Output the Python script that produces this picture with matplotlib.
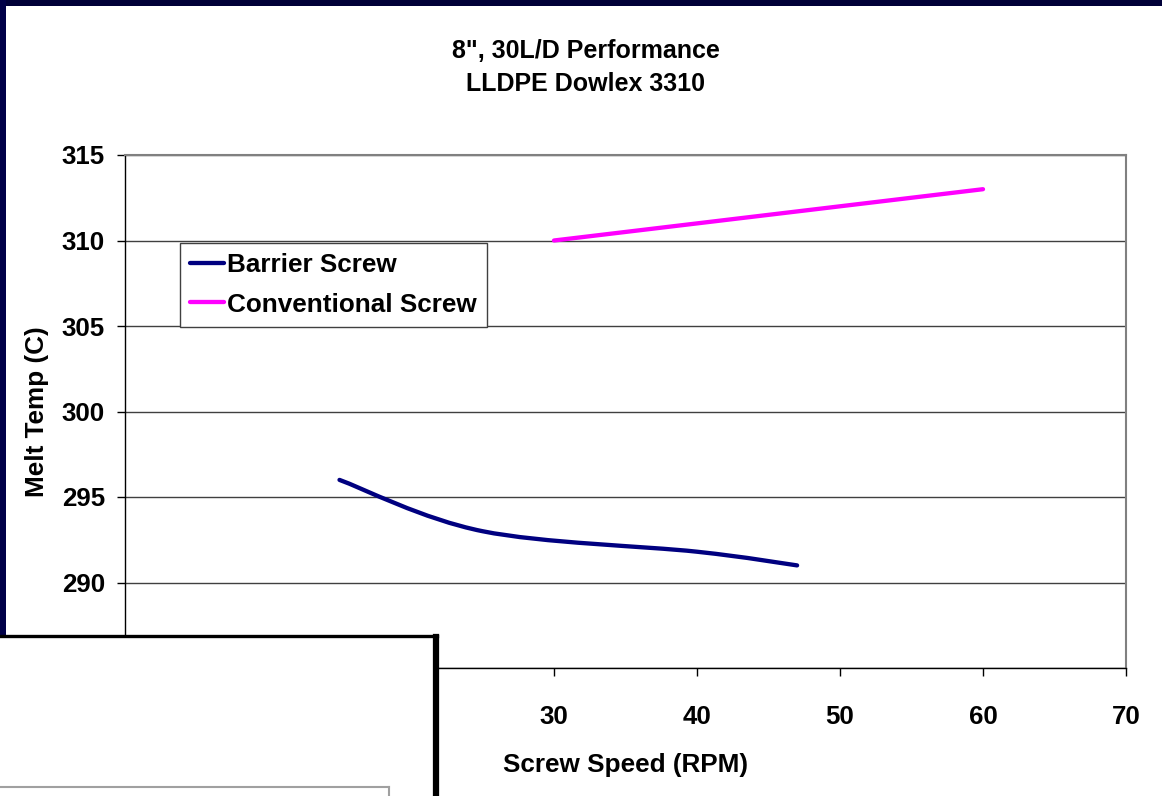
import matplotlib
matplotlib.use("Agg")
import matplotlib.pyplot as plt
from matplotlib.path import Path
from matplotlib.patches import PathPatch, Rectangle
from matplotlib.lines import Line2D
import numpy as np

plt.rcParams['font.family'] = ['Liberation Sans', 'DejaVu Sans']
plt.rcParams['font.weight'] = 'bold'

# Data
barrier_rpm = [15, 25, 40, 47]
barrier_temp = [296, 293, 291.8, 291]
conventional_rpm = [30, 60]
conventional_temp = [310, 313]
x_ticks = [0, 10, 20, 30, 40, 50, 60, 70]
y_ticks = [285, 290, 295, 300, 305, 310, 315]

W, H = 1162, 796
fig = plt.figure(figsize=(W / 100, H / 100), dpi=100)
fig.patch.set_facecolor('white')


def fx(px):
    return px / W


def fy(py):
    return 1 - py / H


ax = fig.add_axes([fx(125), fy(668), fx(1126 - 125), (668 - 155) / H])


def smooth_path(xs, ys):
    """Cubic Bezier path through the points (spreadsheet-style smoothing)."""
    pts = np.column_stack([xs, ys]).astype(float)
    n = len(pts)
    verts = [pts[0]]
    codes = [Path.MOVETO]
    for i in range(n - 1):
        p0 = pts[i - 1] if i > 0 else pts[i]
        p1 = pts[i]
        p2 = pts[i + 1]
        p3 = pts[i + 2] if i + 2 < n else pts[i + 1]
        c1 = p1 + (p2 - p0) / 6.0
        c2 = p2 - (p3 - p1) / 6.0
        verts += [c1, c2, p2]
        codes += [Path.CURVE4] * 3
    return Path(verts, codes)


navy = '#000080'
magenta = '#FF00FF'
lw = 3.1

ax.add_patch(PathPatch(smooth_path(barrier_rpm, barrier_temp), facecolor='none',
                       edgecolor=navy, lw=lw, capstyle='round', zorder=3))
ax.plot(conventional_rpm, conventional_temp, color=magenta, lw=lw,
        solid_capstyle='round', zorder=3)

ax.set_xlim(0, 70)
ax.set_ylim(285, 315)
ax.set_xticks(x_ticks)
ax.set_yticks(y_ticks)
ax.yaxis.grid(True, color='#404040', lw=1.0)
ax.set_axisbelow(True)

for side in ('top', 'right'):
    ax.spines[side].set_color('#808080')
    ax.spines[side].set_linewidth(1.5)
for side in ('left', 'bottom'):
    ax.spines[side].set_color('black')
    ax.spines[side].set_linewidth(1.0)

fs = 18.6
ax.tick_params(axis='y', direction='out', length=6, width=1, labelsize=fs, pad=8.5)
ax.tick_params(axis='x', direction='out', length=6, width=1, labelsize=fs, pad=20.5)
for lab in ax.get_xticklabels() + ax.get_yticklabels():
    lab.set_fontweight('bold')

ax.set_xlabel('Screw Speed (RPM)', fontsize=18.8, fontweight='bold', va='top')
ax.xaxis.set_label_coords(0.5, (668 - 753) / 513)
ax.set_ylabel('Melt Temp (C)', fontsize=18.8, fontweight='bold')
ax.yaxis.set_label_coords((49 - 125) / 1001, 0.5)

handles = [Line2D([], [], color=navy, lw=lw, solid_capstyle='round'),
           Line2D([], [], color=magenta, lw=lw, solid_capstyle='round')]
leg = ax.legend(handles, ['Barrier Screw', 'Conventional Screw'],
                loc='upper left', bbox_to_anchor=(fx(180), fy(243)),
                bbox_transform=fig.transFigure, borderaxespad=0,
                fancybox=False, framealpha=1, edgecolor='#404040',
                prop={'size': 18.8, 'weight': 'bold'}, handlelength=1.3,
                handletextpad=0.12, labelspacing=0.6, borderpad=0.38)
leg.get_frame().set_linewidth(1.0)

fig.text(fx(586), fy(58), '8", 30L/D Performance', ha='center', va='baseline',
         fontsize=18, fontweight='bold')
fig.text(fx(586), fy(91), 'LLDPE Dowlex 3310', ha='center', va='baseline',
         fontsize=18, fontweight='bold')

# Dark frame along the top and left edges
border = '#000038'
fig.add_artist(Rectangle((0, fy(6)), 1, 6 / H, transform=fig.transFigure,
                         facecolor=border, edgecolor='none', zorder=5))
fig.add_artist(Rectangle((0, 0), fx(6), 1, transform=fig.transFigure,
                         facecolor='#000048', edgecolor='none', zorder=5))

# Overlapping panel in the lower-left corner
fig.add_artist(Rectangle((0, 0), fx(436), fy(636), transform=fig.transFigure,
                         facecolor='white', edgecolor='none', zorder=6))
fig.add_artist(Line2D([0, fx(437)], [fy(636), fy(636)], transform=fig.transFigure,
                      color='black', lw=2.4, zorder=7))
fig.add_artist(Line2D([fx(436), fx(436)], [fy(637), 0], transform=fig.transFigure,
                      color='black', lw=4.5, zorder=7))
fig.add_artist(Line2D([0, fx(389)], [fy(787), fy(787)], transform=fig.transFigure,
                      color='#a0a0a0', lw=1.5, zorder=7))
fig.add_artist(Line2D([fx(389), fx(389)], [fy(787), 0], transform=fig.transFigure,
                      color='#a0a0a0', lw=1.5, zorder=7))

fig.savefig('out.png', dpi=100, facecolor='white')
